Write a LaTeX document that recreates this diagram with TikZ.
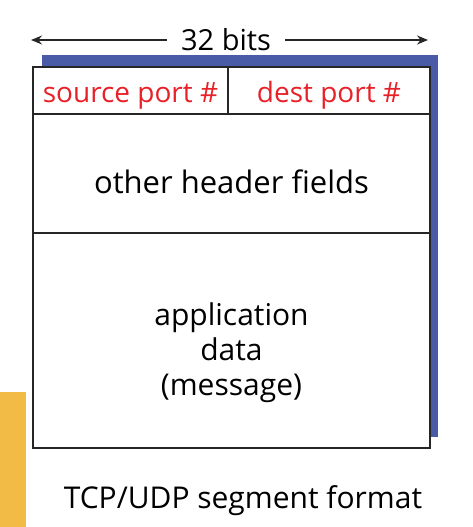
\documentclass[tikz,border=0pt]{standalone}
\usepackage{fontspec}
\setmainfont{Open Sans}
\usepackage{tikz}
\usetikzlibrary{arrows.meta, positioning}
\definecolor{shadowblue}{RGB}{73, 91, 167}
\definecolor{portred}{RGB}{232, 32, 40}
\definecolor{slideyellow}{RGB}{242, 187, 69}

\begin{document}
\begin{tikzpicture}[
  x=1pt, y=-1pt,
  field/.style={rectangle, draw=black!85, line width=2pt, fill=white,
                inner sep=0pt, outer sep=0pt, align=center,
                font=\fontsize{30}{35}\selectfont},
  port/.style={field, text=portred, minimum height=47pt,
               text height=24.4pt, text depth=0pt,
               font=\fontsize{28}{32}\selectfont},
  arr/.style={-{Stealth[length=11pt, width=9pt]}, line width=1.6pt, black!85}
]
  \useasboundingbox (0,0) rectangle (473,527);
  % yellow block of the slide behind
  \fill[slideyellow] (0,392) rectangle (26,527);
  % blue shadow
  \fill[shadowblue] (42,55) rectangle (438,437);

  % width label
  \node[font=\fontsize{29}{34}\selectfont, inner xsep=14pt] (bits) at (226,40) {32 bits};
  \coordinate (lend) at (31,40);
  \coordinate (rend) at (428,40);
  \draw[arr] (bits.west) -- (lend);
  \draw[arr] (bits.east) -- (rend);

  % segment fields
  \node[port, minimum width=195pt, anchor=north west] (src) at (33,67) {source port \#};
  \node[port, minimum width=202pt, right=0pt of src] (dst) {dest port \#};
  \node[field, minimum width=397pt, minimum height=119pt,
        text height=39pt, text depth=0pt, font=\fontsize{31}{35}\selectfont,
        below=0pt of src.south west, anchor=north west] (hdr) {other header fields};
  \node[field, minimum width=397pt, minimum height=215pt,
        below=0pt of hdr] (data)
        {\rule{0pt}{49pt}application\\data\\(message)\rule[-10pt]{0pt}{0pt}};

  % caption
  \node[font=\fontsize{30}{34}\selectfont, anchor=base]
        (caption) at ([xshift=11.5pt, yshift=-60pt]data.south) {TCP/UDP segment format};
\end{tikzpicture}
\end{document}
